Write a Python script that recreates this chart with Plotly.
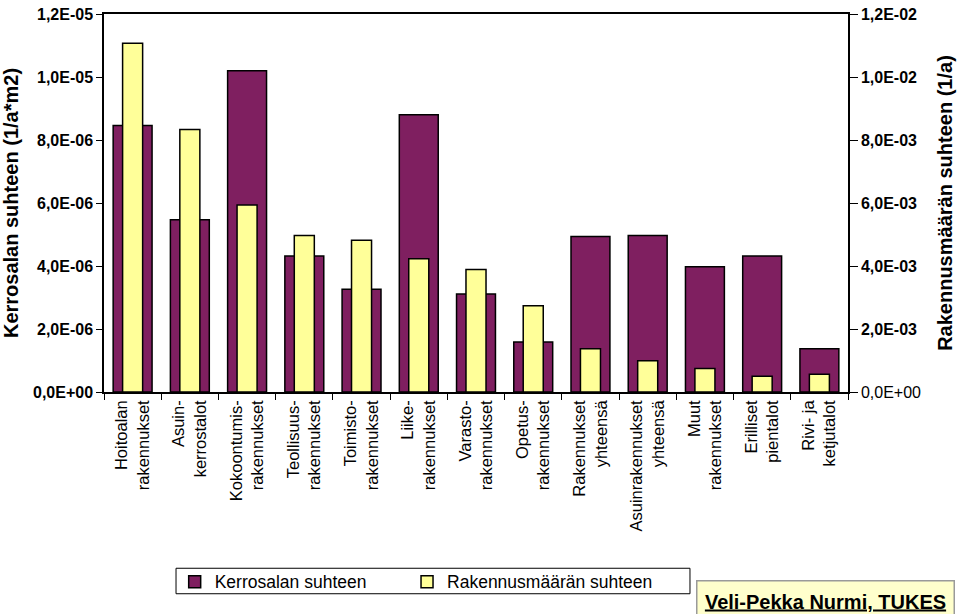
import plotly.graph_objects as go

categories = [
    "Hoitoalan<br>rakennukset", "Asuin-<br>kerrostalot", "Kokoontumis-<br>rakennukset",
    "Teollisuus-<br>rakennukset", "Toimisto-<br>rakennukset", "Liike-<br>rakennukset",
    "Varasto-<br>rakennukset", "Opetus-<br>rakennukset", "Rakennukset<br>yhteensä",
    "Asuinrakennukset<br>yhteensä", "Muut<br>rakennukset", "Erilliset<br>pientalot",
    "Rivi- ja<br>ketjutalot",
]
kerrosala = [8.46e-6, 5.47e-6, 10.2e-6, 4.32e-6, 3.26e-6, 8.80e-6, 3.11e-6,
             1.59e-6, 4.94e-6, 4.97e-6, 3.98e-6, 4.32e-6, 1.37e-6]
rakennusmaara = [11.07e-3, 8.33e-3, 5.94e-3, 4.97e-3, 4.82e-3, 4.23e-3, 3.89e-3,
                 2.74e-3, 1.37e-3, 0.99e-3, 0.75e-3, 0.50e-3, 0.56e-3]

left_vals = [0, 2e-6, 4e-6, 6e-6, 8e-6, 10e-6, 12e-6]
left_text = ["<b>0,0E+00</b>", "<b>2,0E-06</b>", "<b>4,0E-06</b>", "<b>6,0E-06</b>",
             "<b>8,0E-06</b>", "<b>1,0E-05</b>", "<b>1,2E-05</b>"]
right_vals = [0, 2e-3, 4e-3, 6e-3, 8e-3, 10e-3, 12e-3]
right_text = ["0,0E+00", "<b>2,0E-03</b>", "<b>4,0E-03</b>", "<b>6,0E-03</b>",
              "<b>8,0E-03</b>", "<b>1,0E-02</b>", "<b>1,2E-02</b>"]

FONT = "Liberation Sans, Arial, sans-serif"
PURPLE = "#7F1F60"
YELLOW = "#FFFF99"

fig = go.Figure()
fig.add_trace(go.Bar(
    x=categories, y=kerrosala, name="Kerrosalan suhteen", width=0.68,
    marker=dict(color=PURPLE, line=dict(color="black", width=1.5)), yaxis="y",
    legend="legend",
))
fig.add_trace(go.Bar(
    x=categories, y=rakennusmaara, name="Rakennusmäärän suhteen", width=0.35,
    marker=dict(color=YELLOW, line=dict(color="black", width=1.5)), yaxis="y2",
    legend="legend2",
))

legend_common = dict(
    orientation="h", yanchor="middle", xanchor="left", y=-0.502,
    borderwidth=0, bgcolor="rgba(0,0,0,0)",
    font=dict(size=17.5, family=FONT), itemwidth=30,
)

fig.update_layout(
    width=959, height=614,
    margin=dict(l=104, r=111, t=6, b=222),
    paper_bgcolor="white", plot_bgcolor="white",
    barmode="overlay",
    font=dict(family=FONT, color="black"),
    showlegend=True,
    legend=dict(x=0.095, **legend_common),
    legend2=dict(x=0.4073, **legend_common),
    xaxis=dict(
        type="category", tickangle=-90, tickfont=dict(size=16.5, family=FONT),
        showline=True, linecolor="black", linewidth=1.5, mirror=True,
        ticks="outside", tickson="boundaries", ticklen=6, tickcolor="black",
        showgrid=False,
    ),
    yaxis=dict(
        range=[0, 12e-6], tickvals=left_vals, ticktext=left_text,
        tickfont=dict(size=16, family=FONT), showgrid=False,
        showline=True, linecolor="black", linewidth=1.5,
        ticks="outside", ticklen=6, tickcolor="black", ticklabeloverflow="allow",
        title=dict(text="<b>Kerrosalan suhteen (1/a*m2)</b>", font=dict(size=20, family=FONT), standoff=9),
        zeroline=False,
    ),
    yaxis2=dict(
        range=[0, 12e-3], tickvals=right_vals, ticktext=right_text,
        tickfont=dict(size=16, family=FONT), showgrid=False,
        overlaying="y", side="right",
        showline=True, linecolor="black", linewidth=1.5,
        ticks="outside", ticklen=8, tickcolor="black", ticklabeloverflow="allow",
        title=dict(text="<b>Rakennusmäärän suhteen (1/a)</b>", font=dict(size=20, family=FONT), standoff=18),
        zeroline=False,
    ),
)

# legend frame
fig.add_shape(
    type="rect", xref="paper", yref="paper",
    x0=0.0968, x1=0.7876, y0=-0.5337, y1=-0.4663,
    line=dict(color="black", width=1), fillcolor="rgba(0,0,0,0)", layer="below",
)

fig.add_annotation(
    xref="paper", yref="paper", x=1.144, y=-0.4975, xanchor="right", yanchor="top",
    text="<b><u>Veli-Pekka Nurmi, TUKES</u></b>", showarrow=False,
    font=dict(size=20, family="Liberation Sans Narrow, Arial Narrow, Liberation Sans", color="black"),
    bgcolor="#FFFFCC", bordercolor="#9A9A9A", borderwidth=1.5, borderpad=4,
    width=248, height=32, align="center", valign="middle",
)

fig.write_html(
    "out.html",
    config={"displayModeBar": False},
    post_script="document.body.style.margin='0';document.body.style.padding='0';",
)
